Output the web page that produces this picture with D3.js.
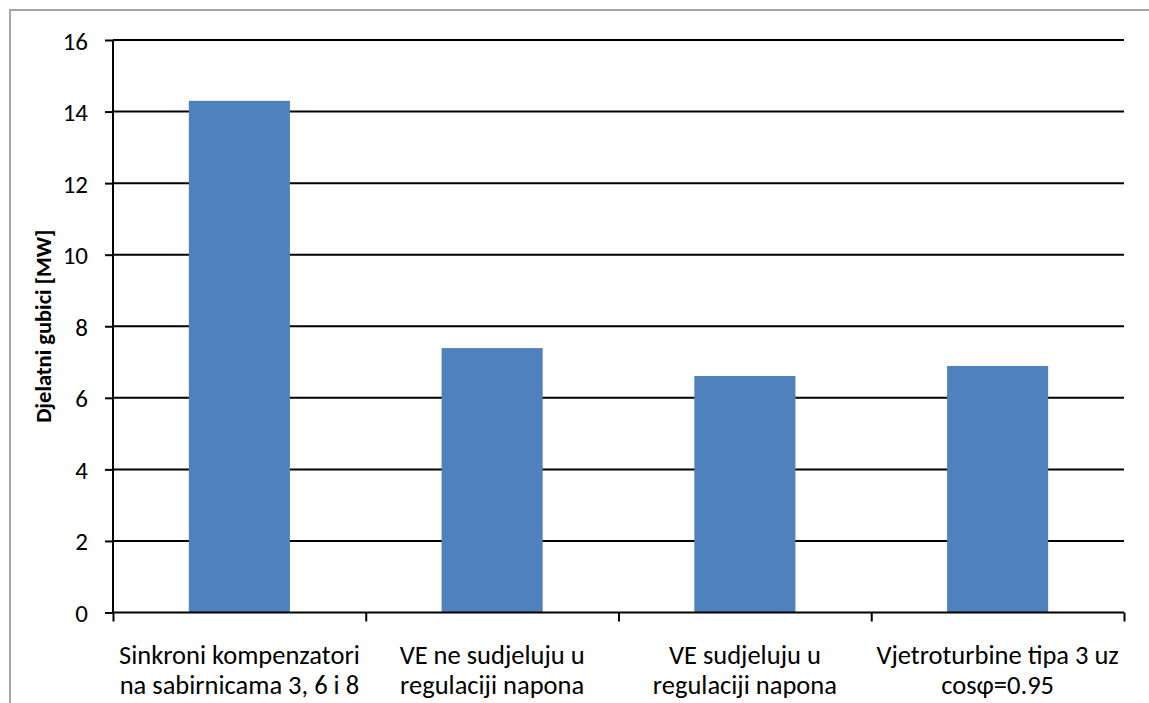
<!DOCTYPE html>
<html><head><meta charset="utf-8">
<script src="https://cdn.jsdelivr.net/npm/d3@7"></script>
<style>
html,body{margin:0;padding:0;background:#fff;}
svg{display:block;}
text{font-family:Carlito, Calibri, Lato, sans-serif;fill:#000;}
</style></head>
<body>
<script>
const categories = ["Sinkroni kompenzatori\nna sabirnicama 3, 6 i 8", "VE ne sudjeluju u\nregulaciji napona", "VE sudjeluju u\nregulaciji napona", "Vjetroturbine tipa 3 uz\ncosφ=0.95"];
const values = [14.3, 7.39, 6.61, 6.89];
const yTicks = [0, 2, 4, 6, 8, 10, 12, 14, 16];
const yTitle = "Djelatni gubici [MW]";

const W = 1149, H = 703;
const L = 113, R = 1124, T = 40, B = 612.5;
const svg = d3.select("body").append("svg").attr("width", W).attr("height", H);

// outer frame
svg.append("rect").attr("x", 10).attr("y", 10).attr("width", W + 20).attr("height", H + 20)
  .attr("fill", "#fff").attr("stroke", "#a6a6a6").attr("stroke-width", 2);

const y = d3.scaleLinear().domain([0, 16]).range([B, T]);
const x = d3.scaleBand().domain(categories).range([L, R]).paddingInner(0.6).paddingOuter(0.3);
const xb = d3.scaleLinear().domain([0, categories.length]).range([L, R]);

// gridlines
svg.append("g").selectAll("line").data(yTicks.filter(d => d > 0)).join("line")
  .attr("x1", L).attr("x2", R).attr("y1", d => y(d)).attr("y2", d => y(d))
  .attr("stroke", "#000").attr("stroke-width", 2);

// bars
svg.append("g").selectAll("rect").data(values).join("rect")
  .attr("x", (d, i) => x(categories[i])).attr("width", x.bandwidth())
  .attr("y", d => y(d)).attr("height", d => B - y(d)).attr("fill", "#4f81bd");

// y axis
const ya = svg.append("g").attr("transform", `translate(${L},0)`)
  .call(d3.axisLeft(y).tickValues(yTicks).tickSize(8).tickPadding(17).tickFormat(d3.format("d")));
ya.select(".domain").attr("stroke", "#000").attr("stroke-width", 2).attr("d", `M0,${T}V${B}`);
ya.selectAll(".tick line").attr("stroke", "#000").attr("stroke-width", 2);
ya.selectAll(".tick text").attr("font-size", 25).attr("dy", "0.36em").style("font-family", "Carlito, Calibri, Lato, sans-serif");

// x axis (category boundaries)
const xa = svg.append("g").attr("transform", `translate(0,${B})`)
  .call(d3.axisBottom(xb).tickValues(d3.range(categories.length + 1)).tickSize(9).tickFormat(""));
xa.select(".domain").attr("stroke", "#000").attr("stroke-width", 2).attr("d", `M${L},0H${R}`);
xa.selectAll(".tick line").attr("stroke", "#000").attr("stroke-width", 2);

// category labels
const lab = svg.append("g").selectAll("text").data(categories).join("text")
  .attr("x", d => x(d) + x.bandwidth() / 2).attr("y", 663.5)
  .attr("text-anchor", "middle").attr("font-size", 26.5);
lab.selectAll("tspan").data(d => d.split("\n")).join("tspan")
  .attr("x", function () { return d3.select(this.parentNode).attr("x"); })
  .attr("dy", (d, i) => i === 0 ? 0 : 30).text(d => d);

// y title
svg.append("text").attr("transform", `translate(51,${(T + B) / 2}) rotate(-90)`)
  .attr("text-anchor", "middle").attr("font-size", 22.5).attr("font-weight", "bold").text(yTitle);
</script>
</body></html>
